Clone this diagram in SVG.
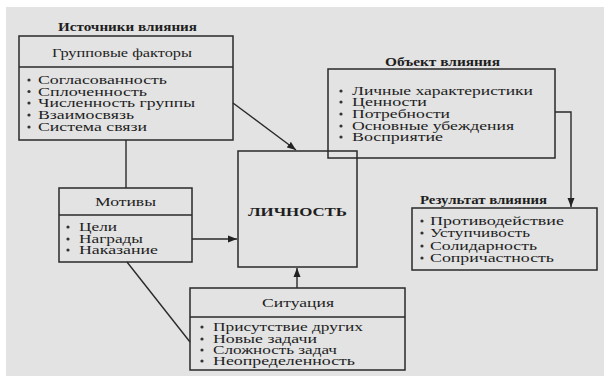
<svg xmlns="http://www.w3.org/2000/svg" width="604" height="376" viewBox="0 0 604 376">
<style>
text{font-family:"Liberation Serif","Times New Roman",serif;fill:#1e1e1e;font-size:12px}
.hd{font-size:13px}
.t{font-weight:bold;font-size:12px}
.h{text-anchor:middle}
.box{fill:none;stroke:#2a2a2a;stroke-width:1.5}
.div{stroke:#2a2a2a;stroke-width:1.3}
.b{fill:#333}
.c{fill:none;stroke:#2a2a2a;stroke-width:1.4}
</style>
<defs>
<marker id="ar" markerUnits="userSpaceOnUse" markerWidth="10" markerHeight="8" refX="9" refY="4" orient="auto">
<path d="M0,0.5 L9,4 L0,7.5 Z" fill="#222"/>
</marker>
</defs>
<rect width="604" height="376" fill="#ffffff"/>
<rect x="6" y="7" width="598" height="369" fill="#e3e3e3"/>

<g id="connectors">
<line class="c" x1="233" y1="103" x2="296" y2="150" marker-end="url(#ar)"/>
<line class="c" x1="126" y1="140" x2="126" y2="188"/>
<line class="c" x1="192" y1="239" x2="237" y2="239" marker-end="url(#ar)"/>
<line class="c" x1="127" y1="262" x2="190" y2="342"/>
<line class="c" x1="297" y1="288" x2="297" y2="268" marker-end="url(#ar)"/>
<polyline class="c" points="555,112 571,112 571,207" marker-end="url(#ar)"/>
</g>

<g id="sources">
<text class="t h" x="127.5" y="31" textLength="139" lengthAdjust="spacingAndGlyphs">Источники влияния</text>
</g>

<g id="group-factors">
<rect class="box" x="19" y="36" width="214" height="104"/>
<line class="div" x1="19" y1="67" x2="233" y2="67"/>
<text class="h hd" x="122" y="57" textLength="140" lengthAdjust="spacingAndGlyphs">Групповые факторы</text>
<circle class="b" cx="29" cy="80" r="1.6"/>
<circle class="b" cx="29" cy="91.5" r="1.6"/>
<circle class="b" cx="29" cy="103" r="1.6"/>
<circle class="b" cx="29" cy="115" r="1.6"/>
<circle class="b" cx="29" cy="127" r="1.6"/>
<text x="38" y="84" textLength="129" lengthAdjust="spacingAndGlyphs">Согласованность</text>
<text x="38" y="95.5" textLength="109" lengthAdjust="spacingAndGlyphs">Сплоченность</text>
<text x="38" y="107" textLength="157" lengthAdjust="spacingAndGlyphs">Численность группы</text>
<text x="38" y="119" textLength="96" lengthAdjust="spacingAndGlyphs">Взаимосвязь</text>
<text x="38" y="131" textLength="109" lengthAdjust="spacingAndGlyphs">Система связи</text>
</g>

<g id="motives">
<rect class="box" x="59" y="188" width="133" height="74"/>
<line class="div" x1="59" y1="215" x2="192" y2="215"/>
<text class="h hd" x="125.5" y="206" textLength="61" lengthAdjust="spacingAndGlyphs">Мотивы</text>
<circle class="b" cx="68" cy="227" r="1.6"/>
<circle class="b" cx="68" cy="239" r="1.6"/>
<circle class="b" cx="68" cy="250" r="1.6"/>
<text x="79" y="231" textLength="38" lengthAdjust="spacingAndGlyphs">Цели</text>
<text x="79" y="243" textLength="64" lengthAdjust="spacingAndGlyphs">Награды</text>
<text x="79" y="254" textLength="79" lengthAdjust="spacingAndGlyphs">Наказание</text>
</g>

<g id="personality">
<rect class="box" x="238" y="151" width="119" height="116"/>
<text class="t" x="248" y="216" font-size="13" textLength="99" lengthAdjust="spacingAndGlyphs">ЛИЧНОСТЬ</text>
</g>

<g id="situation">
<rect class="box" x="190" y="288" width="215" height="82"/>
<line class="div" x1="190" y1="317" x2="405" y2="317"/>
<text class="h hd" x="298" y="307" textLength="72" lengthAdjust="spacingAndGlyphs">Ситуация</text>
<circle class="b" cx="202" cy="327" r="1.6"/>
<circle class="b" cx="202" cy="339" r="1.6"/>
<circle class="b" cx="202" cy="350" r="1.6"/>
<circle class="b" cx="202" cy="361" r="1.6"/>
<text x="213" y="331" textLength="150" lengthAdjust="spacingAndGlyphs">Присутствие других</text>
<text x="213" y="343" textLength="104" lengthAdjust="spacingAndGlyphs">Новые задачи</text>
<text x="213" y="354" textLength="124" lengthAdjust="spacingAndGlyphs">Сложность задач</text>
<text x="213" y="365" textLength="142" lengthAdjust="spacingAndGlyphs">Неопределенность</text>
</g>

<g id="object">
<text class="t h" x="442.5" y="66" textLength="115" lengthAdjust="spacingAndGlyphs">Объект влияния</text>
<rect class="box" x="328" y="69" width="227" height="89"/>
<circle class="b" cx="341" cy="91" r="1.6"/>
<circle class="b" cx="341" cy="102" r="1.6"/>
<circle class="b" cx="341" cy="114" r="1.6"/>
<circle class="b" cx="341" cy="126" r="1.6"/>
<circle class="b" cx="341" cy="137" r="1.6"/>
<text x="352" y="95" textLength="181" lengthAdjust="spacingAndGlyphs">Личные характеристики</text>
<text x="352" y="106" textLength="75" lengthAdjust="spacingAndGlyphs">Ценности</text>
<text x="352" y="118" textLength="98" lengthAdjust="spacingAndGlyphs">Потребности</text>
<text x="352" y="130" textLength="162" lengthAdjust="spacingAndGlyphs">Основные убеждения</text>
<text x="352" y="141" textLength="91" lengthAdjust="spacingAndGlyphs">Восприятие</text>
</g>

<g id="result">
<text class="t" x="420" y="204" textLength="127" lengthAdjust="spacingAndGlyphs">Результат влияния</text>
<rect class="box" x="412" y="208" width="185" height="62"/>
<circle class="b" cx="422" cy="221" r="1.6"/>
<circle class="b" cx="422" cy="233" r="1.6"/>
<circle class="b" cx="422" cy="246" r="1.6"/>
<circle class="b" cx="422" cy="258" r="1.6"/>
<text x="430" y="225" textLength="134" lengthAdjust="spacingAndGlyphs">Противодействие</text>
<text x="430" y="237" textLength="100" lengthAdjust="spacingAndGlyphs">Уступчивость</text>
<text x="430" y="250" textLength="107" lengthAdjust="spacingAndGlyphs">Солидарность</text>
<text x="430" y="262" textLength="124" lengthAdjust="spacingAndGlyphs">Сопричастность</text>
</g>
</svg>
